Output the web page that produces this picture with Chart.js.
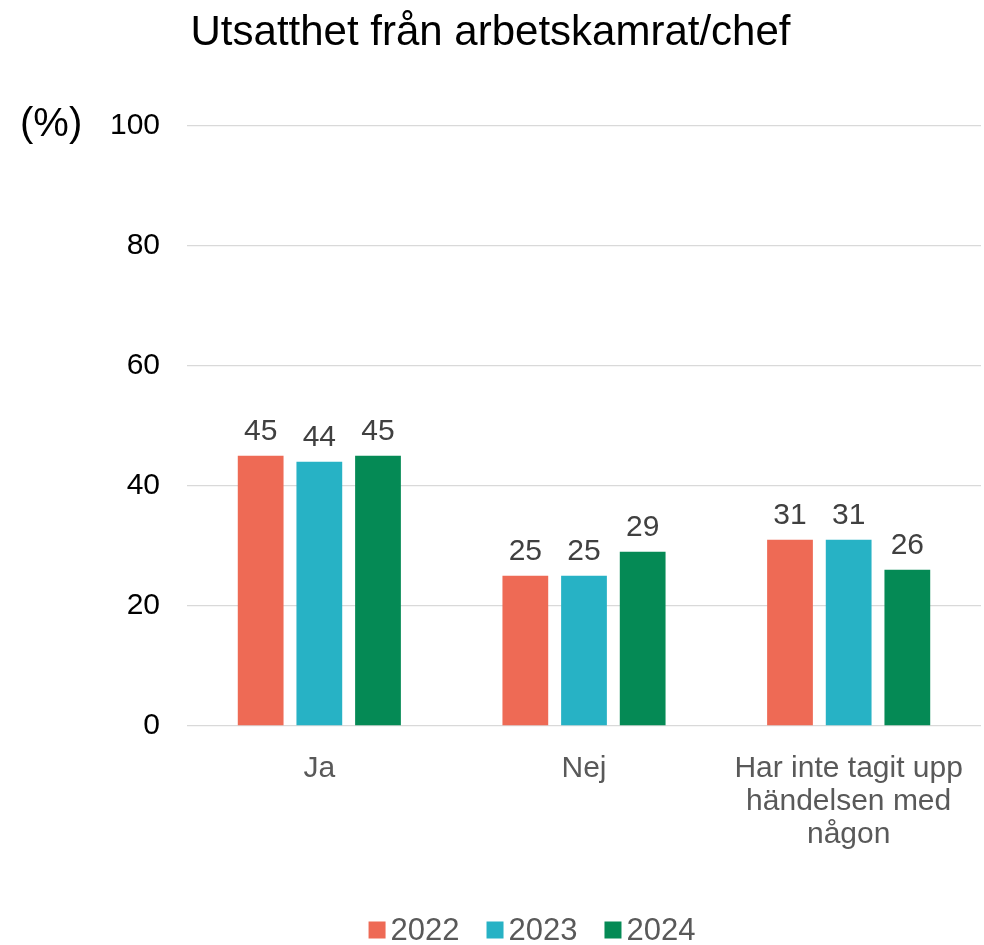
<!DOCTYPE html>
<html>
<head>
<meta charset="utf-8">
<script src="https://cdn.jsdelivr.net/npm/chart.js@4"></script>
<style>
  html, body { margin: 0; padding: 0; background: #fff; }
  #wrap { width: 984px; height: 945px; }
</style>
</head>
<body>
<div id="wrap"><canvas id="chart"></canvas></div>
<script>
// Chart data
const categories = ['Ja', 'Nej', ['Har inte tagit upp', 'händelsen med', 'någon']];
const years = ['2022', '2023', '2024'];
const values2022 = [45, 25, 31];
const values2023 = [44, 25, 31];
const values2024 = [45, 29, 26];
const colors = ['#EE6A55', '#27B2C5', '#058A55'];

const FONT = 'Liberation Sans, Arial, sans-serif';

// Draw value labels above each bar
const barLabels = {
    id: 'barLabels',
    afterDatasetsDraw(chart) {
        const ctx = chart.ctx;
        ctx.save();
        ctx.font = '30px ' + FONT;
        ctx.fillStyle = '#404040';
        ctx.textAlign = 'center';
        ctx.textBaseline = 'bottom';
        chart.data.datasets.forEach((ds, i) => {
            chart.getDatasetMeta(i).data.forEach((bar, j) => {
                ctx.fillText(ds.data[j], bar.x, bar.y - 9);
            });
        });
        ctx.restore();
    }
};

// "(%)" unit label left of the y axis
const unitLabel = {
    id: 'unitLabel',
    afterDraw(chart) {
        const ctx = chart.ctx;
        const y = chart.scales.y.getPixelForValue(100);
        ctx.save();
        ctx.font = '40px ' + FONT;
        ctx.fillStyle = '#000';
        ctx.textAlign = 'left';
        ctx.textBaseline = 'middle';
        ctx.fillText('(%)', 20, y);
        ctx.restore();
    }
};

// Legend drawn by hand: small square, tight gap, then year
const bottomLegend = {
    id: 'bottomLegend',
    afterDraw(chart) {
        const ctx = chart.ctx;
        const box = 17, gapText = 5, gapItem = 27;
        ctx.save();
        ctx.font = '31px ' + FONT;
        ctx.textBaseline = 'middle';
        ctx.textAlign = 'left';
        const items = chart.data.datasets.map(ds => ({
            text: ds.label,
            color: ds.backgroundColor,
            w: box + gapText + ctx.measureText(ds.label).width
        }));
        const total = items.reduce((s, it) => s + it.w, 0) + gapItem * (items.length - 1);
        let x = 532 - total / 2;
        const y = 930;
        items.forEach(it => {
            ctx.fillStyle = it.color;
            ctx.fillRect(x, y - box / 2, box, box);
            ctx.fillStyle = '#595959';
            ctx.fillText(it.text, x + box + gapText, y + 1);
            x += it.w + gapItem;
        });
        ctx.restore();
    }
};

function makeDataset(label, data, color) {
    return {
        label: label,
        data: data,
        backgroundColor: color,
        borderWidth: 0,
        categoryPercentage: 0.665,
        barPercentage: 0.78
    };
}

new Chart(document.getElementById('chart'), {
    type: 'bar',
    data: {
        labels: categories,
        datasets: [
            makeDataset(years[0], values2022, colors[0]),
            makeDataset(years[1], values2023, colors[1]),
            makeDataset(years[2], values2024, colors[2])
        ]
    },
    options: {
        responsive: true,
        maintainAspectRatio: false,
        animation: false,
        layout: { padding: { left: 0, right: 3, top: 0, bottom: 0 } },
        scales: {
            x: {
                grid: { display: false },
                border: { display: false },
                ticks: {
                    color: '#595959',
                    font: { family: FONT, size: 30, lineHeight: 1.1 },
                    padding: 18,
                    maxRotation: 0
                },
                afterFit: scale => { scale.height = 219; }
            },
            y: {
                min: 0,
                max: 100,
                ticks: {
                    stepSize: 20,
                    color: '#000',
                    font: { family: FONT, size: 30 },
                    padding: 27
                },
                grid: { color: '#D9D9D9', lineWidth: 1.3, drawTicks: false },
                border: { display: false },
                afterFit: scale => { scale.width = 187; }
            }
        },
        plugins: {
            title: {
                display: true,
                text: 'Utsatthet från arbetskamrat/chef',
                color: '#000',
                font: { family: FONT, size: 42, weight: 'normal' },
                padding: { top: 8, bottom: 67 }
            },
            legend: { display: false },
            tooltip: { enabled: false }
        }
    },
    plugins: [barLabels, unitLabel, bottomLegend]
});
</script>
</body>
</html>
